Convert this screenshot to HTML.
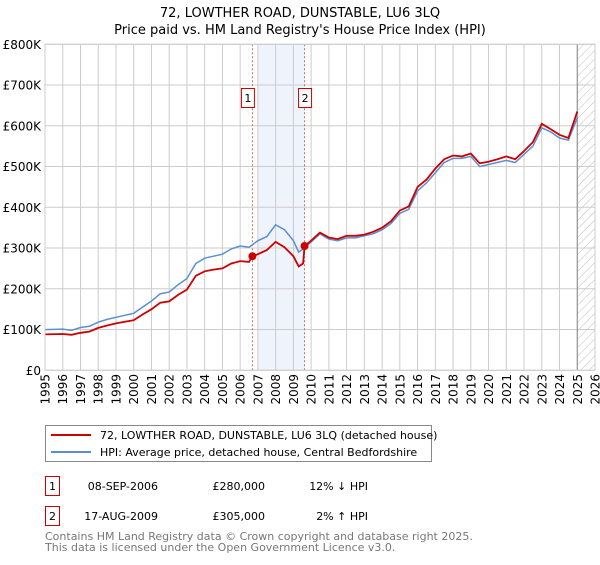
<!DOCTYPE html>
<html><head><meta charset="utf-8"><style>
body{margin:0;background:#fff;font-family:"Liberation Sans","DejaVu Sans",sans-serif;}
svg text{font-family:"DejaVu Sans","Liberation Sans",sans-serif;}
</style></head><body>
<svg id="chart" width="600" height="560" xmlns="http://www.w3.org/2000/svg">
<defs><pattern id="hatch" patternUnits="userSpaceOnUse" width="6" height="6" patternTransform="rotate(45)"><line x1="0" y1="0" x2="0" y2="6" stroke="#bbb" stroke-width="1"/></pattern></defs>
<text x="300" y="17" text-anchor="middle" font-size="13">72, LOWTHER ROAD, DUNSTABLE, LU6 3LQ</text>
<text x="300" y="34" text-anchor="middle" font-size="13">Price paid vs. HM Land Registry's House Price Index (HPI)</text>
<g id="plot"></g>
<g>
<rect x="45.5" y="425.5" width="386" height="36" fill="#fff" stroke="#888"/>
<line x1="51" y1="435" x2="91" y2="435" stroke="#cc0000" stroke-width="2"/>
<text x="100" y="439" font-size="11">72, LOWTHER ROAD, DUNSTABLE, LU6 3LQ (detached house)</text>
<line x1="51" y1="452" x2="91" y2="452" stroke="#5b8fd0" stroke-width="2"/>
<text x="100" y="456" font-size="11">HPI: Average price, detached house, Central Bedfordshire</text>
</g>
<g font-size="11">
<rect x="45.5" y="476.5" width="14" height="19" fill="#fff" stroke="#cc0000"/>
<text x="52.5" y="490" text-anchor="middle">1</text>
<text x="158" y="490" text-anchor="end">08-SEP-2006</text>
<text x="265" y="490" text-anchor="end">£280,000</text>
<text x="368" y="490" text-anchor="end">12% ↓ HPI</text>
<rect x="45.5" y="506.5" width="14" height="19" fill="#fff" stroke="#cc0000"/>
<text x="52.5" y="520" text-anchor="middle">2</text>
<text x="158" y="520" text-anchor="end">17-AUG-2009</text>
<text x="265" y="520" text-anchor="end">£305,000</text>
<text x="368" y="520" text-anchor="end">2% ↑ HPI</text>
</g>
<text x="45" y="540" font-size="11" fill="#777">Contains HM Land Registry data © Crown copyright and database right 2025.</text>
<text x="45" y="551" font-size="11" fill="#777">This data is licensed under the Open Government Licence v3.0.</text>
</svg>
<script>
const hpiYears=[1995,1996,1996.5,1997,1997.5,1998,1998.5,1999,1999.5,2000,2000.5,2001,2001.5,2002,2002.5,2003,2003.5,2004,2004.5,2005,2005.5,2006,2006.5,2007,2007.5,2008,2008.5,2009,2009.3,2009.6,2010,2010.5,2011,2011.5,2012,2012.5,2013,2013.5,2014,2014.5,2015,2015.5,2016,2016.5,2017,2017.5,2018,2018.5,2019,2019.5,2020,2020.5,2021,2021.5,2022,2022.5,2023,2023.5,2024,2024.5,2025];
const hpiValues=[100,101,98,105,108,118,125,130,135,140,155,170,188,192,210,225,262,275,280,285,298,305,302,318,328,357,345,318,290,300,315,335,322,318,325,325,330,335,345,360,385,395,440,460,485,510,520,520,525,500,505,510,515,510,530,550,595,585,570,565,620];
const priceYears=[1995,1996,1996.5,1997,1997.5,1998,1998.5,1999,1999.5,2000,2000.5,2001,2001.5,2002,2002.5,2003,2003.5,2004,2004.5,2005,2005.5,2006,2006.5,2006.69,2007,2007.5,2008,2008.5,2009,2009.3,2009.55,2009.63,2010,2010.5,2011,2011.5,2012,2012.5,2013,2013.5,2014,2014.5,2015,2015.5,2016,2016.5,2017,2017.5,2018,2018.5,2019,2019.5,2020,2020.5,2021,2021.5,2022,2022.5,2023,2023.5,2024,2024.5,2025];
const priceValues=[88,89,87,92,95,104,110,115,119,123,137,150,166,169,185,198,232,243,247,250,262,268,266,280,285,295,315,302,280,255,262,305,318,338,326,322,330,330,333,340,350,366,392,402,450,468,495,518,527,525,532,508,512,518,525,518,538,560,605,592,578,570,635];
const saleYears=[2006.69,2009.63];
const saleValues=[280,305];
const saleLabels=["1","2"];
const yTicks=[0,100,200,300,400,500,600,700,800];
const yTickLabels=["£0","£100K","£200K","£300K","£400K","£500K","£600K","£700K","£800K"];
const xTicks=[1995,1996,1997,1998,1999,2000,2001,2002,2003,2004,2005,2006,2007,2008,2009,2010,2011,2012,2013,2014,2015,2016,2017,2018,2019,2020,2021,2022,2023,2024,2025,2026];

const L=45,R=595,T=44.3,B=370.3,X0=1995,X1=2026,YMAX=800;
const xs=y=>L+(y-X0)/(X1-X0)*(R-L);
const ys=v=>B-v/YMAX*(B-T);
const NS="http://www.w3.org/2000/svg";
const plot=document.getElementById('plot');
function mk(tag,attrs,parent){const e=document.createElementNS(NS,tag);for(const k in attrs)e.setAttribute(k,attrs[k]);(parent||plot).appendChild(e);return e;}

let e=mk('rect',{x:L,y:T,width:R-L,height:B-T,fill:'#fff'});


e=mk('rect',{x:xs(2007),y:T,width:xs(2009.63)-xs(2007),height:B-T,fill:'#eef3fc'});


e=mk('rect',{x:xs(2025),y:T,width:R-xs(2025),height:B-T,fill:'url(#hatch)'});


yTicks.forEach((v,i)=>{
  const g=mk('line',{x1:L,x2:R,y1:ys(v),y2:ys(v),stroke:'#ccc','stroke-width':1});
  
  
  const t=mk('text',{x:L-4,y:ys(v)+4.5,'text-anchor':'end','font-size':12});
  t.textContent=yTickLabels[i];
  
  
});
xTicks.forEach(y=>{
  const g=mk('line',{x1:xs(y),x2:xs(y),y1:T,y2:B,stroke:'#ccc','stroke-width':1});
  
  
  const tx=xs(y)+4.5, ty=374;
  const t=mk('text',{x:tx,y:ty,'text-anchor':'end','font-size':12,transform:'rotate(-90 '+tx+' '+ty+')'});
  t.textContent=y;
  
  
});
e=mk('line',{x1:xs(2025),x2:xs(2025),y1:T,y2:B,stroke:'#888','stroke-width':1});


saleYears.forEach((y,i)=>{
  const l=mk('line',{x1:xs(y),x2:xs(y),y1:T,y2:B,stroke:'#e06060','stroke-width':1,'stroke-dasharray':'2,2'});
  
  
});
function pts(a,b){return a.map((y,i)=>xs(y).toFixed(1)+','+ys(b[i]).toFixed(1)).join(' ');}
e=mk('polyline',{points:pts(hpiYears,hpiValues),fill:'none',stroke:'#5b8fd0','stroke-width':1.5});


e=mk('polyline',{points:pts(priceYears,priceValues),fill:'none',stroke:'#cc0000','stroke-width':1.8});


saleYears.forEach((y,i)=>{
  const c=mk('circle',{cx:xs(y),cy:ys(saleValues[i]),r:4,fill:'#cc0000'});
  
  
  const bx=xs(y)-(i===0?4:-1)-7;
  const r=mk('rect',{x:bx,y:88.5,width:13,height:19,fill:'#fff',stroke:'#cc0000'});
  
  
  const t=mk('text',{x:bx+6.5,y:102,'text-anchor':'middle','font-size':11});
  t.textContent=saleLabels[i];
  
  
});
e=mk('rect',{x:L,y:T,width:R-L,height:B-T,fill:'none',stroke:'#ccc'});


</script>
</body></html>
